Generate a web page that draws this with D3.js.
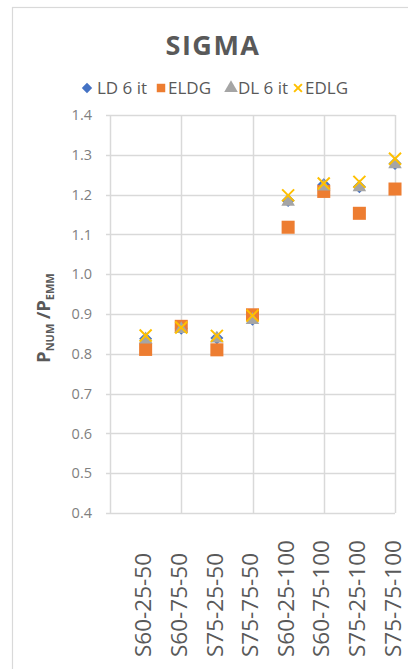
<!DOCTYPE html>
<html>
<head>
<meta charset="utf-8">
<script src="https://cdn.jsdelivr.net/npm/d3@7"></script>
<style>
  html, body { margin: 0; padding: 0; background: #fff; }
  svg { display: block; font-family: "Open Sans", sans-serif; }
</style>
</head>
<body>
<svg id="chart" width="408" height="669"></svg>
<script>
// Category labels (one per test case) and ratio values per method
const categories = ["S60-25-50", "S60-75-50", "S75-25-50", "S75-75-50",
                    "S60-25-100", "S60-75-100", "S75-25-100", "S75-75-100"];
const ld6it = [0.838, 0.864, 0.840, 0.887, 1.185, 1.225, 1.220, 1.278];
const eldg  = [0.811, 0.869, 0.810, 0.898, 1.118, 1.208, 1.153, 1.214];
const dl6it = [0.836, 0.862, 0.838, 0.885, 1.182, 1.220, 1.218, 1.276];
const edlg  = [0.846, 0.866, 0.845, 0.896, 1.198, 1.228, 1.232, 1.290];
const yTicks = [0.4, 0.5, 0.6, 0.7, 0.8, 0.9, 1.0, 1.1, 1.2, 1.3, 1.4];
const xGrid = [0, 2, 4, 6, 8];

const series = [
  { name: "LD 6 it", values: ld6it, color: "#4472C4", shape: "diamond" },
  { name: "ELDG",    values: eldg,  color: "#ED7D31", shape: "square" },
  { name: "DL 6 it", values: dl6it, color: "#A5A5A5", shape: "triangle" },
  { name: "EDLG",    values: edlg,  color: "#FFC000", shape: "cross" }
];

const svg = d3.select("#chart");
const textColor = "#595959";
const gridColor = "#d9d9d9";

const plot = { left: 110, right: 395, top: 115, bottom: 513 };
const x = d3.scaleLinear().domain([0, 8]).range([plot.left, plot.right]);
const y = d3.scaleLinear().domain([0.4, 1.4]).range([plot.bottom, plot.top]);

// chart frame
svg.append("rect")
  .attr("x", 12.5).attr("y", 7.5).attr("width", 420).attr("height", 700)
  .attr("fill", "#fff").attr("stroke", gridColor).attr("stroke-width", 1.2);

// title
svg.append("text")
  .attr("x", 213).attr("y", 55)
  .attr("text-anchor", "middle")
  .attr("font-size", 27).attr("font-weight", "bold")
  .attr("letter-spacing", 1.5)
  .attr("fill", textColor)
  .text("SIGMA");

// gridlines
const grid = svg.append("g");
grid.selectAll("line.h").data(yTicks).join("line")
  .attr("class", "h")
  .attr("x1", plot.left - 4).attr("x2", plot.right)
  .attr("y1", d => Math.round(y(d)) + 0.5).attr("y2", d => Math.round(y(d)) + 0.5)
  .attr("stroke", gridColor).attr("stroke-width", 1.5);
grid.selectAll("line.v").data(xGrid).join("line")
  .attr("class", "v")
  .attr("y1", plot.top).attr("y2", plot.bottom)
  .attr("x1", d => Math.round(x(d)) + 0.5).attr("x2", d => Math.round(x(d)) + 0.5)
  .attr("stroke", gridColor).attr("stroke-width", 1.5);

// y axis tick labels
const yAxis = svg.append("g")
  .attr("transform", `translate(${plot.left - 18},0)`)
  .call(d3.axisLeft(y).tickValues(yTicks).tickFormat(d3.format(".1f")).tickSize(0).tickPadding(0));
yAxis.select(".domain").remove();
yAxis.selectAll("text")
  .attr("font-family", "'Open Sans', sans-serif")
  .attr("font-size", 14.5).attr("fill", "#7f7f7f");

// y axis title with subscripts
const yTitle = svg.append("text")
  .attr("transform", "translate(50,318) rotate(-90)")
  .attr("text-anchor", "middle")
  .attr("font-weight", "bold")
  .attr("fill", textColor)
  .attr("font-size", 18);
yTitle.append("tspan").text("P");
yTitle.append("tspan").attr("font-size", 11).attr("dy", 4).text("NUM");
yTitle.append("tspan").attr("dy", -4).text(" /P");
yTitle.append("tspan").attr("font-size", 11).attr("dy", 4).text("EMM");

// x category labels, rotated
svg.append("g").selectAll("text").data(categories).join("text")
  .attr("transform", (d, i) => `translate(${x(i + 1)},657) rotate(-90)`)
  .attr("dy", "0.25em")
  .attr("text-anchor", "start")
  .attr("font-size", 22.5)
  .attr("fill", textColor)
  .text(d => d);

// marker shapes
const symbolFor = {
  square: d3.symbol().type(d3.symbolSquare).size(170),
  triangle: d3.symbol().type(d3.symbolTriangle).size(80)
};
function drawMarker(g, s, cx, cy, scale) {
  const k = scale || 1;
  if (s.shape === "cross") {
    const r = 6 * k;
    g.append("path")
      .attr("d", `M${cx - r},${cy - r}L${cx + r},${cy + r}M${cx - r},${cy + r}L${cx + r},${cy - r}`)
      .attr("stroke", s.color).attr("stroke-width", 2).attr("fill", "none");
  } else if (s.shape === "diamond") {
    const r = 6.5 * k;
    g.append("path")
      .attr("d", `M${cx},${cy - r}L${cx + r},${cy}L${cx},${cy + r}L${cx - r},${cy}Z`)
      .attr("fill", s.color);
  } else {
    g.append("path")
      .attr("transform", `translate(${cx},${cy}) scale(${k})`)
      .attr("d", symbolFor[s.shape]())
      .attr("fill", s.color);
  }
}

// data points
const pts = svg.append("g");
series.forEach(s => {
  s.values.forEach((v, i) => drawMarker(pts, s, x(i + 1), y(v)));
});

// legend
const legendItems = [
  { s: series[0], mx: 87,  tx: 97,  k: 0.8 },
  { s: series[1], mx: 161, tx: 168, k: 0.65 },
  { s: series[2], mx: 231, tx: 238, k: 1 },
  { s: series[3], mx: 298, tx: 305, k: 0.65 }
];
const legend = svg.append("g");
legendItems.forEach(it => {
  drawMarker(legend, it.s, it.mx, 88, it.k);
  legend.append("text")
    .attr("x", it.tx).attr("y", 88).attr("dy", "0.35em")
    .attr("font-size", 17).attr("fill", textColor)
    .text(it.s.name);
});
</script>
</body>
</html>
